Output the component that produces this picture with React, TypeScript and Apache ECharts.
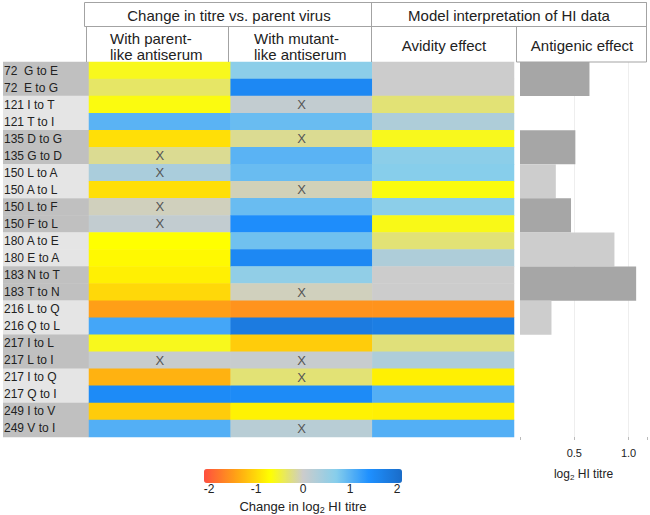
import React, { useEffect, useRef } from "react";
import * as echarts from "echarts";

const FONT = "'Liberation Sans', Arial, Helvetica, sans-serif";

// Row labels (mutations)
const rowLabels = [
  "72  G to E", "72  E to G",
  "121 I to T", "121 T to I",
  "135 D to G", "135 G to D",
  "150 L to A", "150 A to L",
  "150 L to F", "150 F to L",
  "180 A to E", "180 E to A",
  "183 N to T", "183 T to N",
  "216 L to Q", "216 Q to L",
  "217 I to L", "217 L to I",
  "217 I to Q", "217 Q to I",
  "249 I to V", "249 V to I",
];

const columns = ["With parent-like antiserum", "With mutant-like antiserum", "Avidity effect"];

// Change in log2 HI titre
const parentLike = [
  -0.6, -0.35, -0.65, 1.0, -0.95, -0.2, 0.35, -0.95, -0.05, 0.1, -0.7,
  -0.75, -0.82, -1.0, -1.45, 1.15, -0.6, 0.05, -1.3, 1.5, -1.1, 1.05,
];
const mutantLike = [
  0.65, 1.55, 0.1, 0.9, -0.2, 1.0, 0.9, -0.07, 0.9, 1.45, 0.85,
  1.55, 0.6, -0.05, -1.55, 1.8, -1.1, 0.05, -0.3, 1.5, -0.8, 0.2,
];
const avidity = [
  0, 0, -0.3, 0.3, -0.6, 0.65, 0.7, -0.65, 0.65, -0.62, -0.3,
  0.3, 0, 0, -1.55, 1.75, -0.28, 0.3, -0.82, 1.05, -0.82, 1.05,
];

// "X" marks (1 = marked)
const parentX = [0, 0, 0, 0, 0, 1, 1, 0, 1, 1, 0, 0, 0, 0, 0, 0, 0, 1, 0, 0, 0, 0];
const mutantX = [0, 0, 1, 0, 1, 0, 0, 1, 0, 0, 0, 0, 0, 1, 0, 0, 0, 1, 1, 0, 0, 1];

// Antigenic effect per mutation pair
const pairs = ["72", "121", "135", "150 L/A", "150 L/F", "180", "183", "216", "217 I/L", "217 I/Q", "249"];
const antigenic = [0.64, 0, 0.51, 0.33, 0.47, 0.87, 1.07, 0.29, 0, 0, 0];
const antigenicStrong = [1, 0, 1, 0, 1, 0, 1, 0, 0, 0, 0];

const legendTicks = { min: -2, max: 2, interval: 1 };

export default function App() {
  const ref = useRef<HTMLDivElement>(null);

  useEffect(() => {
    if (!ref.current) return;
    const chart = echarts.init(ref.current, undefined, { renderer: "svg" });

    const heatData: any[] = [];
    const cols = [parentLike, mutantLike, avidity];
    const marks = [parentX, mutantX, rowLabels.map(() => 0)];
    cols.forEach((arr, c) => {
      arr.forEach((v, r) => heatData.push([c, r, v, marks[c][r]]));
    });

    const border = "#a3a3a3";
    const txt = "#222";

    const option: any = {
      animation: false,
      textStyle: { fontFamily: FONT },
      grid: [
        { left: 86, top: 62, width: 428, height: 375 },
        { left: 520, top: 62, width: 128, height: 375 },
        { left: 209, top: 469, width: 188, height: 14 },
      ],
      xAxis: [
        { type: "category", gridIndex: 0, data: columns, show: false },
        {
          type: "value",
          gridIndex: 1,
          min: 0,
          max: 1.17,
          interval: 0.5,
          axisLine: { show: false },
          axisTick: { show: true, length: 3, lineStyle: { color: "#bbb" } },
          splitLine: { show: true, showMinLine: false, showMaxLine: false, lineStyle: { color: "#eeeeee" } },
          axisLabel: {
            margin: 10,
            fontSize: 11,
            color: txt,
            formatter: (v: number) => (Math.abs(v - 0.5) < 1e-6 || Math.abs(v - 1) < 1e-6 ? v.toFixed(1) : ""),
          },
          name: "log{sub|2} HI titre",
          nameLocation: "middle",
          nameGap: 30,
          nameTextStyle: {
            fontSize: 12,
            color: txt,
            rich: { sub: { fontSize: 8, padding: [6, 0, 0, 0] } },
          },
        },
        {
          type: "value",
          gridIndex: 2,
          min: legendTicks.min,
          max: legendTicks.max,
          interval: legendTicks.interval,
          axisLine: { show: false },
          axisTick: { show: false },
          splitLine: { show: false },
          axisLabel: { margin: 9, fontSize: 12, color: txt },
          name: "Change in log{sub|2} HI titre",
          nameLocation: "middle",
          nameGap: 25,
          nameTextStyle: {
            fontSize: 13,
            color: txt,
            rich: { sub: { fontSize: 9, padding: [6, 0, 0, 0] } },
          },
        },
      ],
      yAxis: [
        {
          type: "category",
          gridIndex: 0,
          data: rowLabels,
          inverse: true,
          axisLine: { show: false },
          axisTick: { show: false },
          splitLine: { show: false },
          axisLabel: {
            interval: 0,
            align: "left",
            margin: 86,
            formatter: (name: string, idx: number) =>
              Math.floor(idx / 2) % 2 === 0 ? `{d|${name}}` : `{l|${name}}`,
            rich: {
              d: {
                backgroundColor: "#c0c0c0",
                width: 85,
                height: 17.5,
                padding: [0, 0, 0, 1],
                fontSize: 12,
                color: txt,
                align: "left",
              },
              l: {
                backgroundColor: "#e5e5e5",
                width: 85,
                height: 17.5,
                padding: [0, 0, 0, 1],
                fontSize: 12,
                color: txt,
                align: "left",
              },
            },
          },
        },
        { type: "category", gridIndex: 1, data: pairs, inverse: true, show: false },
        { type: "value", gridIndex: 2, show: false },
      ],
      visualMap: {
        type: "continuous",
        seriesIndex: 0,
        dimension: 2,
        min: -2.1,
        max: 2.1,
        orient: "horizontal",
        left: 204,
        top: 469,
        itemWidth: 14,
        itemHeight: 198,
        padding: 0,
        calculable: false,
        hoverLink: false,
        inRange: {
          color: ["#ff4f3f", "#ffa514", "#ffff00", "#cccccc", "#87ceeb", "#1e90ff", "#1a6cc8"],
        },
      },
      series: [
        {
          type: "heatmap",
          xAxisIndex: 0,
          yAxisIndex: 0,
          data: heatData,
          label: {
            show: true,
            color: "#555",
            fontSize: 13,
            formatter: (p: any) => (p.data[3] ? "X" : ""),
          },
          itemStyle: { borderWidth: 0 },
        },
        {
          type: "bar",
          xAxisIndex: 1,
          yAxisIndex: 1,
          barWidth: "100%",
          data: antigenic.map((v, i) => ({
            value: v,
            itemStyle: { color: antigenicStrong[i] ? "#a6a6a6" : "#cdcdcd" },
          })),
        },
      ],
      graphic: [
        // header frames
        { type: "rect", z: 100, shape: { x: 84.5, y: 2.5, width: 562, height: 24 }, style: { fill: "#fff", stroke: border, lineWidth: 1 } },
        { type: "line", z: 100, shape: { x1: 371.5, y1: 2.5, x2: 371.5, y2: 62 }, style: { stroke: border, lineWidth: 1 } },
        { type: "line", z: 100, shape: { x1: 86.5, y1: 26.5, x2: 86.5, y2: 62 }, style: { stroke: border, lineWidth: 1 } },
        { type: "line", z: 100, shape: { x1: 228.5, y1: 26.5, x2: 228.5, y2: 62 }, style: { stroke: border, lineWidth: 1 } },
        { type: "line", z: 100, shape: { x1: 516.5, y1: 26.5, x2: 516.5, y2: 62 }, style: { stroke: border, lineWidth: 1 } },
        { type: "line", z: 100, shape: { x1: 646.5, y1: 2.5, x2: 646.5, y2: 62 }, style: { stroke: border, lineWidth: 1 } },
        { type: "line", z: 100, shape: { x1: 516.5, y1: 62, x2: 646.5, y2: 62 }, style: { stroke: border, lineWidth: 1 } },
        // header texts
        { type: "text", z: 101, x: 229, y: 15, style: { text: "Change in titre vs. parent virus", fontSize: 15, fill: txt, align: "center", verticalAlign: "middle", fontFamily: FONT } },
        { type: "text", z: 101, x: 509, y: 15, style: { text: "Model interpretation of HI data", fontSize: 15, fill: txt, align: "center", verticalAlign: "middle", fontFamily: FONT } },
        { type: "text", z: 101, x: 110, y: 46.5, style: { text: "With parent-\nlike antiserum", fontSize: 15, lineHeight: 16, fill: txt, align: "left", verticalAlign: "middle", fontFamily: FONT } },
        { type: "text", z: 101, x: 254, y: 46.5, style: { text: "With mutant-\nlike antiserum", fontSize: 15, lineHeight: 16, fill: txt, align: "left", verticalAlign: "middle", fontFamily: FONT } },
        { type: "text", z: 101, x: 444, y: 45.5, style: { text: "Avidity effect", fontSize: 15, fill: txt, align: "center", verticalAlign: "middle", fontFamily: FONT } },
        { type: "text", z: 101, x: 582, y: 45.5, style: { text: "Antigenic effect", fontSize: 15, fill: txt, align: "center", verticalAlign: "middle", fontFamily: FONT } },
      ],
    };

    chart.setOption(option);
    return () => chart.dispose();
  }, []);

  return (
    <div
      ref={ref}
      style={{ position: "fixed", left: 0, top: 0, width: 650, height: 515, background: "#fff" }}
    />
  );
}
